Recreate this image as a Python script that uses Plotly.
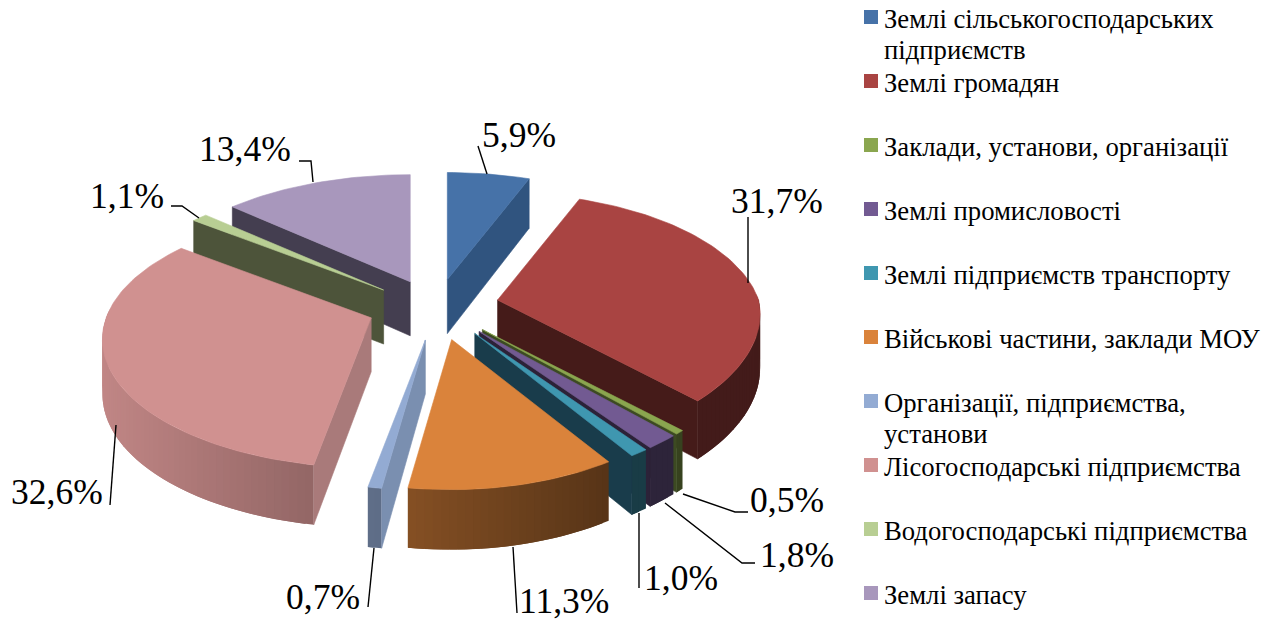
import math
import plotly.graph_objects as go

categories = ["Землі сільськогосподарських<br>підприємств", "Землі громадян", "Заклади, установи, організації",
              "Землі промисловості", "Землі підприємств транспорту", "Військові частини, заклади МОУ",
              "Організації, підприємства,<br>установи", "Лісогосподарські підприємства",
              "Водогосподарські підприємства", "Землі запасу"]
values = [5.9, 31.7, 0.5, 1.8, 1.0, 11.3, 0.7, 32.6, 1.1, 13.4]
top_colors = ["#4672A8", "#A94442", "#8AA64F", "#725A92", "#3F97B0", "#DA833B", "#93ABD3", "#D09190", "#B8CE93", "#A897BC"]
face_colors = ["#30547F", "#451B19", "#3C4A22", "#2C2238", "#193C4B", "#5A3516", "#7A8FB0", "#A97A7A", "#4D543A", "#443E50"]
explode = [0.25, 0.245, 0.23, 0.23, 0.23, 0.23, 0.23, 0.25, 0.29, 0.285]
drop = [0, 0, 0, 0, 0, 0, 0, 0, 5, 4]
draw_order = [9, 8, 7, 0, 1, 2, 3, 4, 5, 6]

label_pos = [(519, 135), (777, 201), (787, 500), (797, 555), (681, 578), (564, 601), (323, 597), (57, 492), (127, 196), (245, 149)]
leaders = [
    [(487, 174), (478, 146)],
    [(748, 283), (748, 217)],
    [(683, 494), (735, 512), (748, 512)],
    [(665, 503), (742, 563), (755, 563)],
    [(639, 513), (639, 588)],
    [(513, 547), (517, 613)],
    [(374, 548), (368, 607)],
    [(116, 425), (110, 505)],
    [(199, 218), (182, 206), (171, 206)],
    [(313, 182), (311, 161), (299, 161)],
]
legend_y = [17, 81, 145, 209, 273, 337, 401, 465, 529, 593]

CX, CY, R, A, K = 437, 306, 265, 125, 0.167


def proj(deg):
    t = math.radians(deg)
    s, c = math.sin(t), math.cos(t)
    d = 1 + K * c
    x = R * s / d
    if s > 0:
        x *= 0.985
        if c < 0:
            x -= 16 * s * (-c)
    return x, -A * c / d


def depth(c):
    return 54 / (1 + 0.1 * c)


def shade(hex_color, f):
    r, g, b = (int(hex_color[i:i + 2], 16) for i in (1, 3, 5))
    return f"rgb({int(r * f)},{int(g * f)},{int(b * f)})"


fig = go.Figure()


def poly(xs, ys, color, lw=0.6):
    fig.add_trace(go.Scatter(x=list(xs) + [xs[0]], y=list(ys) + [ys[0]], mode="lines", fill="toself",
                             fillcolor=color, line=dict(color=color, width=lw),
                             hoverinfo="skip", showlegend=False))


starts = []
acc = 0.0
for v in values:
    starts.append(acc)
    acc += v

for i in draw_order:
    a0 = starts[i] * 3.6
    a1 = (starts[i] + values[i]) * 3.6
    mid = (a0 + a1) / 2
    mx, my = proj(mid)
    ax, ay = CX + explode[i] * mx, CY + explode[i] * my + drop[i]
    n = max(2, int((a1 - a0) / 1.5))
    angs = [a0 + (a1 - a0) * j / n for j in range(n + 1)]
    rim = [(ax + proj(t)[0], ay + proj(t)[1], depth(math.cos(math.radians(t)))) for t in angs]
    apex_d = 54
    # curved outer wall: each strip overlaps the next so that no seams show
    for j in range(n):
        tm = (angs[j] + angs[j + 1]) / 2
        if math.cos(math.radians(tm)) < 0.05:
            p, q = rim[j], rim[min(j + 2, n)]
            xm = (rim[j][0] + rim[j + 1][0]) / 2
            f = max(0.40, min(0.95, 0.93 - (xm - 100) / 510 * 0.53))
            poly([p[0], q[0], q[0], p[0]], [p[1], q[1], q[1] + q[2], p[1] + p[2]], shade(top_colors[i], f), lw=0)
    # flat cut faces turned to the viewer
    for edge, vis in ((rim[0], math.sin(math.radians(a0)) < 0), (rim[-1], math.sin(math.radians(a1)) > 0)):
        if vis:
            poly([ax, edge[0], edge[0], ax], [ay, edge[1], edge[1] + edge[2], ay + apex_d], face_colors[i])
    # top face
    poly([ax] + [p[0] for p in rim], [ay] + [p[1] for p in rim], top_colors[i])

for pts in leaders:
    fig.add_trace(go.Scatter(x=[p[0] for p in pts], y=[p[1] for p in pts], mode="lines",
                             line=dict(color="#000000", width=1.4), hoverinfo="skip", showlegend=False))

fig.add_trace(go.Scatter(x=[871] * len(values), y=legend_y, mode="markers",
                         marker=dict(symbol="square", size=14, color=top_colors, line=dict(width=0)),
                         hoverinfo="skip", showlegend=False))

annotations = []
for v, (lx, ly) in zip(values, label_pos):
    annotations.append(dict(x=lx, y=ly, xref="x", yref="y", showarrow=False, xanchor="center", yanchor="middle",
                            text=f"{v:.1f}".replace(".", ",") + "%",
                            font=dict(family="Liberation Serif", size=35.5, color="#000000")))
for name, ly in zip(categories, legend_y):
    for k, line in enumerate(name.split("<br>")):
        annotations.append(dict(x=882, y=ly + 2 + k * 31, xref="x", yref="y", showarrow=False, xanchor="left",
                                yanchor="middle", align="left", text=line,
                                font=dict(family="Liberation Serif", size=26.7, color="#000000")))

fig.update_layout(
    width=1277, height=623, margin=dict(l=0, r=0, t=0, b=0),
    paper_bgcolor="#FFFFFF", plot_bgcolor="#FFFFFF", showlegend=False, annotations=annotations,
    xaxis=dict(range=[0, 1277], visible=False, fixedrange=True),
    yaxis=dict(range=[623, 0], visible=False, fixedrange=True),
)
fig.write_html("out.html", config={"displayModeBar": False},
               post_script="document.body.style.margin='0';document.documentElement.style.overflow='hidden';")
